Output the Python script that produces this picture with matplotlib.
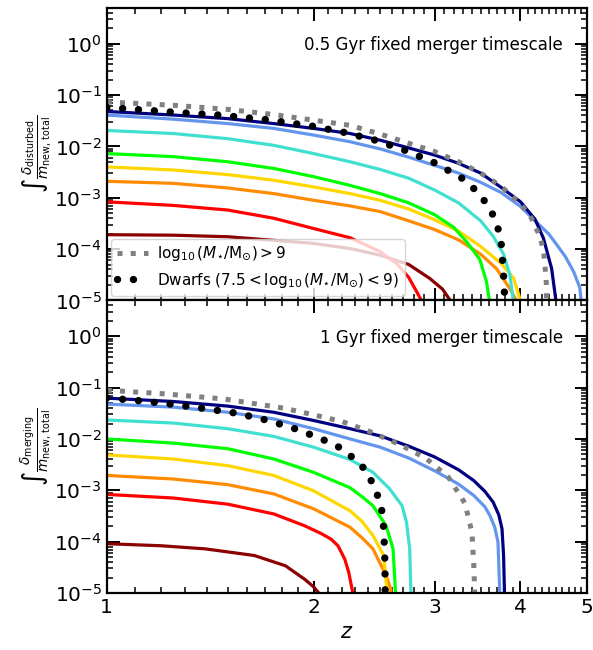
"""
Cumulative disturbed / merging fraction vs redshift, two fixed merger timescales.
Values are read as log10 of the integrated fraction.
"""
import numpy as np
import matplotlib
matplotlib.use("Agg")
import matplotlib.pyplot as plt
from matplotlib.ticker import LogLocator, FixedLocator, FixedFormatter, NullFormatter

COLOURS = ["darkred", "red", "darkorange", "gold", "lime",
           "turquoise", "cornflowerblue", "navy"]

# ---- top panel: 0.5 Gyr (log10 values) ----------------------------------
top_darkred_z = [1.0, 1.25, 1.5, 1.75, 2.0, 2.26, 2.5, 2.75, 2.95, 3.08, 3.15, 3.17]
top_darkred_lg = [-3.72, -3.73, -3.76, -3.83, -3.89, -3.99, -4.12, -4.30, -4.57, -4.78, -4.97, -6]
top_red_z = [1.0, 1.25, 1.5, 1.75, 2.0, 2.26, 2.5, 2.65, 2.75, 2.83, 2.87, 2.88]
top_red_lg = [-3.08, -3.15, -3.24, -3.40, -3.60, -3.78, -4.05, -4.30, -4.55, -4.85, -5.0, -6]
top_orange_z = [1.0, 1.25, 1.5, 1.75, 2.0, 2.26, 2.5, 2.75, 3.0, 3.25, 3.5, 3.69, 3.86, 3.93, 3.94]
top_orange_lg = [-2.68, -2.72, -2.81, -2.92, -3.05, -3.16, -3.27, -3.45, -3.62, -3.82, -4.10, -4.38, -4.77, -4.96, -6]
top_gold_z = [1.0, 1.25, 1.5, 1.75, 2.0, 2.26, 2.5, 2.75, 3.0, 3.25, 3.5, 3.75, 3.91, 3.99, 4.0]
top_gold_lg = [-2.40, -2.46, -2.55, -2.66, -2.79, -2.92, -3.05, -3.22, -3.43, -3.65, -3.95, -4.28, -4.57, -4.96, -6]
top_lime_z = [1.0, 1.25, 1.5, 1.75, 2.0, 2.26, 2.5, 2.75, 3.0, 3.2, 3.35, 3.49, 3.57, 3.60, 3.61]
top_lime_lg = [-2.14, -2.20, -2.30, -2.43, -2.59, -2.76, -2.92, -3.10, -3.33, -3.58, -3.88, -4.20, -4.64, -4.96, -6]
top_turq_z = [1.0, 1.25, 1.5, 1.75, 2.0, 2.26, 2.5, 2.75, 3.0, 3.25, 3.5, 3.65, 3.78, 3.86, 3.90, 3.91]
top_turq_lg = [-1.69, -1.75, -1.85, -1.98, -2.14, -2.30, -2.45, -2.62, -2.85, -3.10, -3.45, -3.75, -4.10, -4.50, -4.96, -6]
top_corn_z = [1.0, 1.25, 1.5, 1.75, 2.0, 2.26, 2.5, 2.75, 3.0, 3.25, 3.5, 3.75, 4.0, 4.2, 4.4, 4.52,
              4.65, 4.78, 4.88, 4.91, 4.92]
top_corn_lg = [-1.39, -1.47, -1.556, -1.65, -1.78, -1.91, -2.05, -2.21, -2.37, -2.52, -2.70, -2.90,
               -3.17, -3.45, -3.71, -3.92, -4.15, -4.44, -4.75, -5.1, -6]
top_navy_z = [1.0, 1.25, 1.5, 1.75, 2.0, 2.26, 2.5, 2.75, 3.0, 3.25, 3.5, 3.75, 4.0, 4.2, 4.32,
              4.44, 4.50, 4.51]
top_navy_lg = [-1.32, -1.39, -1.46, -1.556, -1.65, -1.75, -1.88, -2.03, -2.17, -2.33, -2.52, -2.80,
               -3.08, -3.42, -3.79, -4.38, -4.96, -6]
top_massive_z = [1.0, 1.25, 1.5, 1.75, 2.0, 2.26, 2.5, 2.75, 3.0, 3.25, 3.5, 3.75, 4.0, 4.15,
                 4.25, 4.32, 4.36, 4.38]
top_massive_lg = [-1.134, -1.20, -1.28, -1.38, -1.49, -1.59, -1.76, -1.94, -2.10, -2.30, -2.52,
                  -2.78, -3.12, -3.40, -3.70, -4.0, -4.6, -6]
top_dwarf_z = [1.0, 1.24, 1.456, 1.71, 2.0, 2.22, 2.46, 2.72, 3.0, 3.28, 3.42, 3.54, 3.64, 3.71,
               3.75, 3.78, 3.79, 3.80]
top_dwarf_lg = [-1.24, -1.33, -1.39, -1.48, -1.61, -1.73, -1.88, -2.08, -2.32, -2.61, -2.82,
                -3.05, -3.31, -3.60, -3.89, -4.51, -4.83, -6]

# ---- bottom panel: 1 Gyr (log10 values) ---------------------------------
bot_darkred_z = [1.0, 1.2, 1.39, 1.64, 1.82, 1.94, 2.0, 2.04, 2.05]
bot_darkred_lg = [-4.04, -4.08, -4.14, -4.27, -4.47, -4.73, -4.88, -5.02, -6]
bot_red_z = [1.0, 1.25, 1.5, 1.75, 1.94, 2.05, 2.12, 2.17, 2.22, 2.25, 2.27, 2.29, 2.30]
bot_red_lg = [-3.08, -3.15, -3.27, -3.46, -3.69, -3.84, -3.95, -4.08, -4.34, -4.6, -4.86, -5.1, -6]
bot_orange_z = [1.0, 1.25, 1.5, 1.75, 2.0, 2.26, 2.35, 2.44, 2.55, 2.59, 2.60]
bot_orange_lg = [-2.71, -2.78, -2.89, -3.07, -3.36, -3.72, -3.92, -4.14, -4.66, -4.92, -6]
bot_gold_z = [1.0, 1.25, 1.5, 1.75, 2.0, 2.26, 2.35, 2.44, 2.53, 2.555, 2.56]
bot_gold_lg = [-2.31, -2.39, -2.52, -2.71, -3.01, -3.40, -3.60, -3.88, -4.27, -4.92, -6]
bot_lime_z = [1.0, 1.25, 1.5, 1.75, 2.0, 2.26, 2.35, 2.44, 2.55, 2.61, 2.63, 2.64]
bot_lime_lg = [-2.0, -2.08, -2.19, -2.39, -2.65, -2.95, -3.12, -3.30, -3.69, -4.14, -4.92, -6]
bot_turq_z = [1.0, 1.25, 1.5, 1.75, 2.0, 2.26, 2.44, 2.58, 2.69, 2.73, 2.76, 2.77, 2.78]
bot_turq_lg = [-1.63, -1.69, -1.80, -1.95, -2.16, -2.40, -2.65, -2.97, -3.30, -3.62, -4.14, -4.92, -6]
bot_corn_z = [1.0, 1.25, 1.5, 1.75, 2.0, 2.26, 2.5, 2.75, 3.0, 3.25, 3.42, 3.55, 3.61, 3.67,
              3.71, 3.73, 3.74]
bot_corn_lg = [-1.32, -1.38, -1.48, -1.61, -1.80, -2.00, -2.16, -2.37, -2.62, -2.88, -3.10,
               -3.32, -3.49, -3.72, -4.01, -4.92, -6]
bot_navy_z = [1.0, 1.25, 1.5, 1.75, 2.0, 2.26, 2.5, 2.75, 3.0, 3.25, 3.42, 3.55, 3.65, 3.72,
              3.76, 3.78, 3.79, 3.80]
bot_navy_lg = [-1.205, -1.27, -1.36, -1.48, -1.64, -1.80, -1.94, -2.14, -2.35, -2.60, -2.81,
               -3.02, -3.23, -3.48, -3.75, -4.27, -4.92, -6]
bot_massive_z = [1.0, 1.21, 1.48, 1.81, 2.0, 2.20, 2.43, 2.66, 2.91, 3.14, 3.32, 3.40, 3.42,
                 3.43, 3.435]
bot_massive_lg = [-1.05, -1.12, -1.22, -1.40, -1.53, -1.66, -1.87, -2.10, -2.37, -2.74, -3.25,
                  -3.82, -4.43, -4.9, -6]
bot_dwarf_z = [1.0, 1.127, 1.253, 1.392, 1.548, 1.718, 1.90, 2.096, 2.20, 2.283, 2.38, 2.44,
               2.49, 2.52, 2.53, 2.54, 2.542, 2.545]
bot_dwarf_lg = [-1.20, -1.26, -1.33, -1.41, -1.50, -1.64, -1.82, -2.05, -2.19, -2.37, -2.60,
                -2.88, -3.17, -3.46, -3.79, -4.40, -4.92, -6]

TOP_BINS = [(top_darkred_z, top_darkred_lg), (top_red_z, top_red_lg),
            (top_orange_z, top_orange_lg), (top_gold_z, top_gold_lg),
            (top_lime_z, top_lime_lg), (top_turq_z, top_turq_lg),
            (top_corn_z, top_corn_lg), (top_navy_z, top_navy_lg)]
BOT_BINS = [(bot_darkred_z, bot_darkred_lg), (bot_red_z, bot_red_lg),
            (bot_orange_z, bot_orange_lg), (bot_gold_z, bot_gold_lg),
            (bot_lime_z, bot_lime_lg), (bot_turq_z, bot_turq_lg),
            (bot_corn_z, bot_corn_lg), (bot_navy_z, bot_navy_lg)]

TITLES = ["0.5 Gyr fixed merger timescale", "1 Gyr fixed merger timescale"]
YLABELS = [r"$\int\frac{\delta_{\rm disturbed}}{m_{\rm new,\,total}}$",
           r"$\int\frac{\delta_{\rm merging}}{m_{\rm new,\,total}}$"]
XTICKS = [1, 2, 3, 4, 5]


def style_axis(ax):
    ax.set_xscale("log")
    ax.set_yscale("log")
    ax.set_xlim(1, 5)
    ax.set_ylim(1e-5, 5)
    ax.xaxis.set_major_locator(FixedLocator(XTICKS))
    ax.xaxis.set_major_formatter(FixedFormatter([str(t) for t in XTICKS]))
    minors = [v for v in np.arange(1.1, 5.0, 0.1) if abs(v - round(v)) > 1e-6]
    ax.xaxis.set_minor_locator(FixedLocator(minors))
    ax.xaxis.set_minor_formatter(NullFormatter())
    ax.yaxis.set_major_locator(LogLocator(base=10, numticks=20))
    ax.yaxis.set_minor_locator(LogLocator(base=10, subs=np.arange(2, 10), numticks=20))
    ax.yaxis.set_minor_formatter(NullFormatter())
    ax.tick_params(which="both", direction="in", top=True, right=True, labelsize=14.5)
    ax.tick_params(which="major", length=9, width=1.4)
    ax.tick_params(which="minor", length=4.5, width=1.1)
    for s in ax.spines.values():
        s.set_linewidth(1.6)


def draw_panel(ax, bins, massive, dwarf, title, ylabel):
    for (z, lg), c in zip(bins, COLOURS):
        ax.plot(z, np.power(10.0, lg), color=c, lw=2.3)
    ax.plot(massive[0], np.power(10.0, massive[1]), color="grey", lw=3.6, ls=":",
            label=r"$\log_{10}(M_{\star}/\mathrm{M}_{\odot})>9$")
    ax.plot(dwarf[0], np.power(10.0, dwarf[1]), color="black", lw=5.3,
            ls=(0, (0.01, 2.15)), dash_capstyle="round",
            label=r"Dwarfs $(7.5<\log_{10}(M_{\star}/\mathrm{M}_{\odot})<9)$")
    ax.text(0.95, 0.872, title, transform=ax.transAxes, ha="right", va="center",
            fontsize=12)
    ax.set_ylabel(ylabel, fontsize=14, labelpad=0)
    style_axis(ax)


fig, (ax1, ax2) = plt.subplots(2, 1, figsize=(5.93, 6.5), dpi=100, sharex=True)
fig.subplots_adjust(left=0.180, right=0.990, top=0.988, bottom=0.0877, hspace=0)

draw_panel(ax1, TOP_BINS, (top_massive_z, top_massive_lg), (top_dwarf_z, top_dwarf_lg),
           TITLES[0], YLABELS[0])
draw_panel(ax2, BOT_BINS, (bot_massive_z, bot_massive_lg), (bot_dwarf_z, bot_dwarf_lg),
           TITLES[1], YLABELS[1])

ax1.legend(loc="lower left", fontsize=11, borderaxespad=0.3, handletextpad=0.6)
ax1.tick_params(labelbottom=False)
ax2.set_xlabel(r"$z$", fontsize=15)

fig.savefig("out.png", dpi=100)
